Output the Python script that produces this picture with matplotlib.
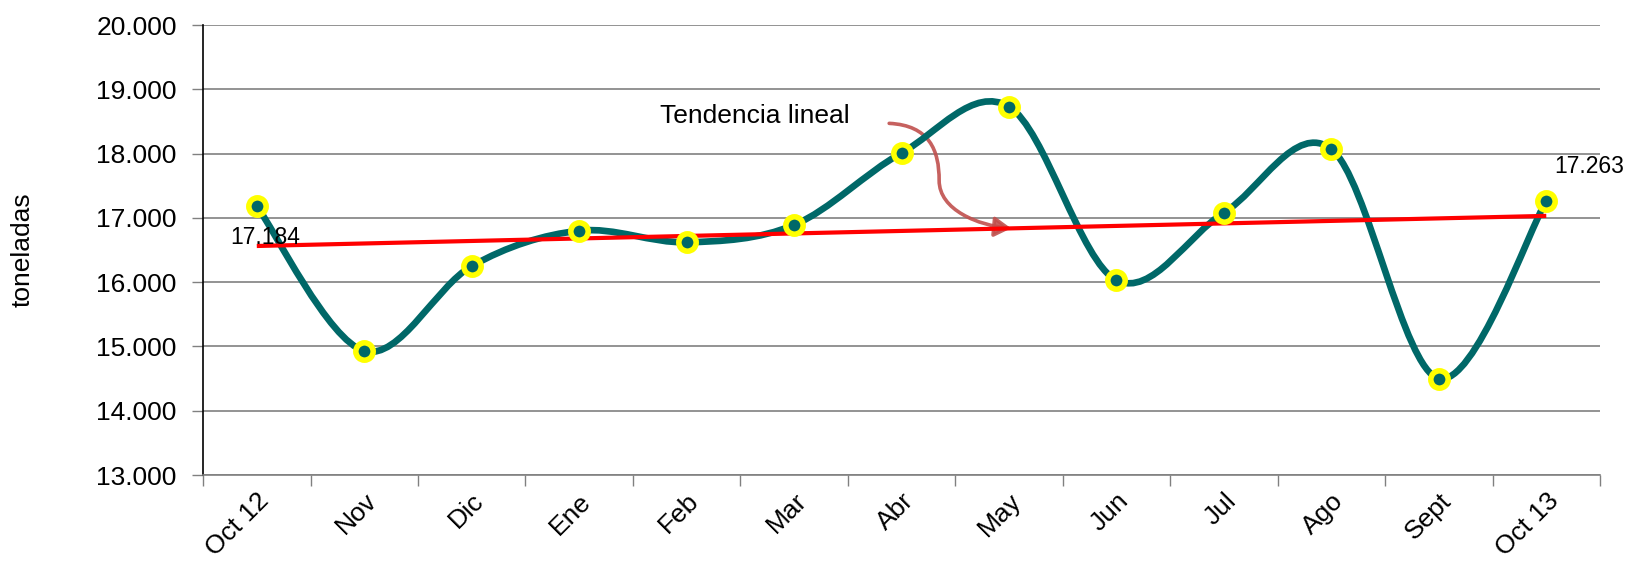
import numpy as np
import matplotlib
matplotlib.use("Agg")
import matplotlib.pyplot as plt
from matplotlib.path import Path
from matplotlib.patches import PathPatch, FancyArrowPatch

plt.rcParams['font.family'] = ['Liberation Sans', 'DejaVu Sans']

months = ["Oct 12", "Nov", "Dic", "Ene", "Feb", "Mar", "Abr", "May", "Jun",
          "Jul", "Ago", "Sept", "Oct 13"]
toneladas = [17184, 14930, 16250, 16800, 16620, 16890, 18010, 18730, 16030,
             17080, 18070, 14500, 17263]
y_ticks = [13000, 14000, 15000, 16000, 17000, 18000, 19000, 20000]

TEAL = "#006868"
YELLOW = "#FFFF00"
GRID = "#808080"

fig = plt.figure(figsize=(16.31, 5.62), dpi=100)
ax = fig.add_axes([0.1245, 0.1548, 0.9810 - 0.1245, 0.9555 - 0.1548])

x = np.arange(len(toneladas), dtype=float)
y = np.array(toneladas, dtype=float)

# smoothed line (Catmull-Rom as cubic Bezier segments)
verts = [(x[0], y[0])]
codes = [Path.MOVETO]
n = len(x)
for i in range(n - 1):
    p0 = np.array([x[max(i - 1, 0)], y[max(i - 1, 0)]])
    p1 = np.array([x[i], y[i]])
    p2 = np.array([x[i + 1], y[i + 1]])
    p3 = np.array([x[min(i + 2, n - 1)], y[min(i + 2, n - 1)]])
    c1 = p1 + (p2 - p0) / 6.0
    c2 = p2 - (p3 - p1) / 6.0
    verts += [tuple(c1), tuple(c2), tuple(p2)]
    codes += [Path.CURVE4] * 3
curve = PathPatch(Path(verts, codes), facecolor="none", edgecolor=TEAL,
                  lw=4.8, capstyle="round", joinstyle="round", zorder=3)
ax.add_patch(curve)

# linear trend
coef = np.polyfit(x, y, 1)
trend = np.polyval(coef, x[[0, -1]])
ax.plot(x[[0, -1]], trend, color="#FF0000", lw=3.0, zorder=4,
        solid_capstyle="butt")

# markers
ax.plot(x, y, linestyle="none", marker="o", ms=12.5, mew=4.0,
        mfc=TEAL, mec=YELLOW, zorder=5)

# data labels
ax.text(x[0] - 0.25, y[0] - 490, "17.184", fontsize=16.5, ha="left",
        va="center", zorder=6)
ax.text(x[-1] + 0.07, 17800, "17.263", fontsize=16.5, ha="left",
        va="center", zorder=6)

# annotation
ax.text(3.75, 18590, "Tendencia lineal", fontsize=19, ha="left", va="center")
apath = Path([(5.885, 18470), (6.26, 18440), (6.35, 18050), (6.35, 17583),
              (6.35, 17117), (6.72, 16883), (7.02, 16837)],
             [Path.MOVETO, Path.CURVE4, Path.CURVE4, Path.CURVE4,
              Path.CURVE4, Path.CURVE4, Path.CURVE4])
arrow = FancyArrowPatch(path=apath, arrowstyle="-|>,head_length=10,head_width=6",
                        color="#C0504D", lw=2.6, alpha=0.9, zorder=2)
ax.add_patch(arrow)

ax.set_xlim(-0.5, n - 0.5)
ax.set_ylim(13000, 20000)
ax.set_yticks(y_ticks)
ax.set_yticklabels([f"{v:,}".replace(",", ".") for v in y_ticks], fontsize=19)
ax.set_xticks(x)
ax.set_xticklabels(months, rotation=45, ha="right", rotation_mode="anchor",
                   fontsize=19)
ax.set_xticks(np.arange(-0.5, n, 1.0), minor=True)
ax.tick_params(axis="x", which="major", length=0, pad=10)
ax.tick_params(axis="x", which="minor", length=8, color=GRID, width=1)
ax.tick_params(axis="y", length=8, color=GRID, width=1, pad=11)

ax.yaxis.grid(True, color=GRID, lw=1.2)
ax.set_axisbelow(True)
for s in ["top", "right"]:
    ax.spines[s].set_visible(False)
ax.spines["left"].set_color("black")
ax.spines["left"].set_linewidth(1.2)
ax.spines["bottom"].set_color(GRID)
ax.spines["bottom"].set_linewidth(1.2)

ax.set_ylabel("toneladas", fontsize=19, labelpad=44)

fig.savefig("out.png", dpi=100)
